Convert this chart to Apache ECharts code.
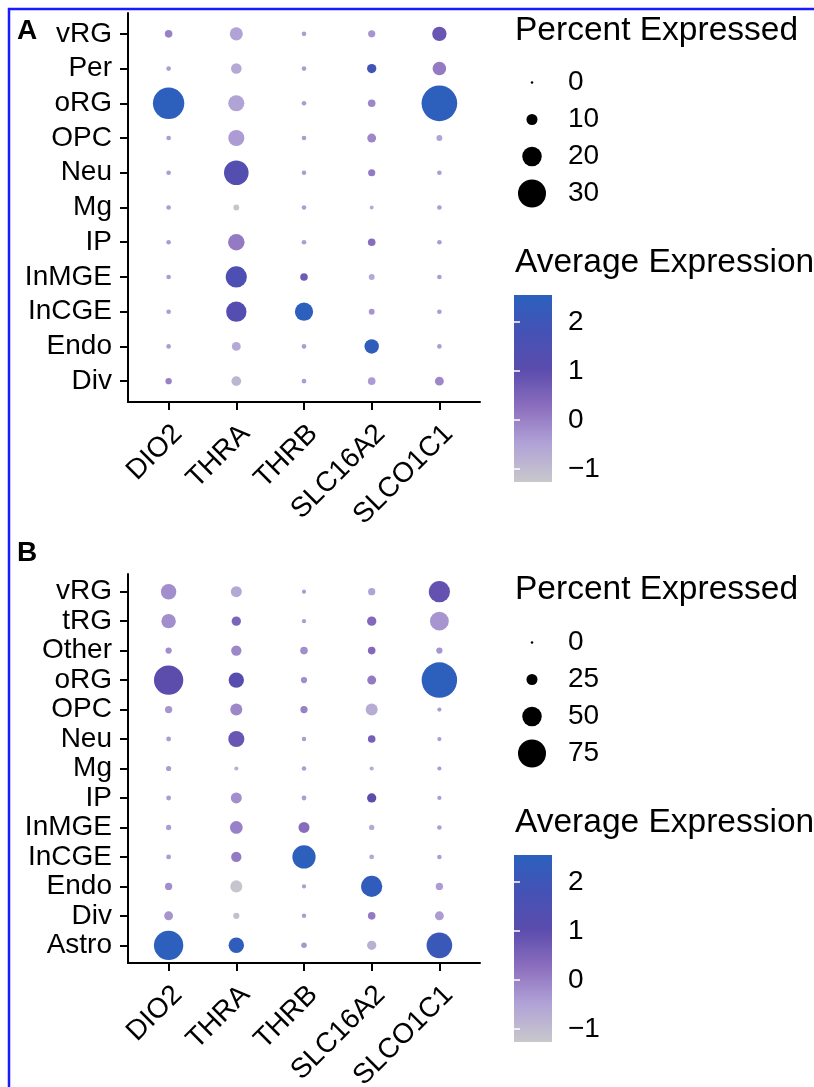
<!DOCTYPE html>
<html>
<head>
<meta charset="utf-8">
<script src="https://cdn.jsdelivr.net/npm/echarts@6/dist/echarts.min.js"></script>
<style>
html,body{margin:0;padding:0;background:#fff;}
#chart{width:814px;height:1087px;}
</style>
</head>
<body>
<div id="chart"></div>
<script>
// ---- data ----
const genes = ['DIO2','THRA','THRB','SLC16A2','SLCO1C1'];

const cellsA = ['vRG','Per','oRG','OPC','Neu','Mg','IP','InMGE','InCGE','Endo','Div'];
// percent expressed, rows = cellsA, cols = genes
const pctA = [
  [6, 12.5, 2.5, 5.5, 14],
  [2.5, 9.5, 2.5, 8, 13],
  [34, 16, 2.5, 6, 39],
  [2.5, 16, 2.5, 7.5, 4],
  [2.5, 26, 2.5, 5.5, 2.5],
  [2.5, 4, 2.5, 1.5, 2.5],
  [2.5, 16.5, 2.5, 6, 2.5],
  [2.5, 22, 6, 4, 2.5],
  [2.5, 21, 18.5, 4, 2.5],
  [2.5, 7.5, 2.5, 14, 2.5],
  [4.5, 8.5, 2.5, 6, 7.5]
];
// average expression
const expA = [
  [0, -0.5, -0.4, -0.3, 0.8],
  [-0.4, -0.6, -0.4, 1.9, 0.1],
  [2.5, -0.5, -0.4, -0.1, 2.5],
  [-0.4, -0.4, -0.4, -0.1, -0.5],
  [-0.4, 1.3, -0.4, 0.1, -0.4],
  [-0.4, -1.2, -0.4, -0.6, -0.4],
  [-0.4, 0.1, -0.4, 0.3, -0.4],
  [-0.4, 1.5, 0.7, -0.6, -0.4],
  [-0.4, 1.3, 2.5, -0.3, -0.4],
  [-0.4, -0.6, -0.4, 2.4, -0.4],
  [0, -0.9, -0.4, -0.4, -0.1]
];

const cellsB = ['vRG','tRG','Other','oRG','OPC','Neu','Mg','IP','InMGE','InCGE','Endo','Div','Astro'];
const pctB = [
  [38, 25, 5, 14, 55],
  [35, 20, 5, 20, 48],
  [11, 23, 15, 15, 11],
  [79, 38, 11, 19, 97],
  [14, 28, 14, 28, 5],
  [7, 40, 6, 15, 5],
  [8, 5, 6, 5, 5],
  [7, 25, 7, 20, 5],
  [8, 30, 25, 8, 6],
  [7, 23, 61, 7, 6],
  [14, 28, 5, 55, 14],
  [19, 11, 6, 15, 19],
  [79, 38, 9, 20, 68]
];
const expB = [
  [-0.2, -0.6, -0.4, -0.5, 0.9],
  [-0.2, 0.5, -0.4, 0.4, -0.3],
  [-0.2, -0.1, -0.2, 0.4, -0.3],
  [1.0, 1.2, -0.2, 0.1, 2.5],
  [-0.3, -0.1, 0, -0.7, -0.4],
  [-0.4, 0.8, -0.4, 0.6, -0.4],
  [-0.4, -0.8, -0.4, -0.7, -0.4],
  [-0.4, -0.2, -0.4, 1.0, -0.4],
  [-0.4, 0, 0.3, -0.6, -0.4],
  [-0.4, 0.1, 2.5, -0.6, -0.4],
  [-0.2, -1.2, -0.4, 2.4, -0.4],
  [-0.3, -1.1, -0.4, 0.1, -0.4],
  [2.5, 2.4, -0.3, -0.8, 2.1]
];

const sizeBreaksA = [0, 10, 20, 30];
const sizeBreaksB = [0, 25, 50, 75];
const colorTicks = [-1, 0, 1, 2];
const expMin = -1.27, expMax = 2.55;
const gradColors = ['#c8c8cc', '#b1a3d6', '#8c6fbe', '#5b4cad', '#4552b5', '#2b60bd'];

// ---- build ----
const FONT = '"Liberation Sans", Arial, Helvetica, sans-serif';
const sizeA = p => 2.5 + 0.85 * p;
const sizeB = p => 2.5 + 0.34 * p;

function buildData(cells, pct, exp) {
  const out = [];
  cells.forEach((c, i) => genes.forEach((g, j) => out.push([j, i, pct[i][j], exp[i][j]])));
  return out;
}
const dataA = buildData(cellsA, pctA, expA);
const dataB = buildData(cellsB, pctB, expB);

const minus = v => String(v).replace('-', '\u2212');
const geneIdx = genes.map((g, i) => i);

function mainX(gridIndex) {
  return {
    type: 'value', gridIndex, min: -0.6, max: genes.length - 0.4,
    splitLine: {show: false},
    axisLine: {show: true, onZero: false, lineStyle: {color: '#000', width: 2}},
    axisTick: {show: true, length: 8, lineStyle: {color: '#000', width: 2}, customValues: geneIdx},
    axisLabel: {show: true, customValues: geneIdx, formatter: v => genes[Math.round(v)],
      rotate: 45, margin: 14, verticalAlign: 'top', padding: [2, 3, 0, 0],
      fontSize: 28, color: '#000', fontFamily: FONT}
  };
}
function mainY(gridIndex, cells) {
  const idx = cells.map((c, i) => i);
  return {
    type: 'value', gridIndex, min: -0.6, max: cells.length - 0.4, inverse: true,
    splitLine: {show: false},
    axisLine: {show: true, onZero: false, lineStyle: {color: '#000', width: 2}},
    axisTick: {show: true, length: 8, lineStyle: {color: '#000', width: 2}, customValues: idx},
    axisLabel: {show: true, customValues: idx, formatter: v => cells[Math.round(v)],
      margin: 16, fontSize: 28, color: '#000', fontFamily: FONT}
  };
}
function hiddenX(gridIndex) {
  return {type: 'value', gridIndex, min: 0, max: 1, show: false};
}
function sizeLegendY(gridIndex, breaks) {
  return {
    type: 'category', gridIndex, data: breaks.map(String), inverse: true, position: 'right',
    axisLine: {show: false}, axisTick: {show: false}, splitLine: {show: false},
    axisLabel: {margin: 16, fontSize: 28, color: '#000', fontFamily: FONT}
  };
}
function barY(gridIndex, pos, labels) {
  return {
    type: 'value', gridIndex, min: expMin, max: expMax, position: pos, z: 10,
    splitLine: {show: false}, axisLine: {show: false},
    axisTick: {show: true, inside: true, length: 6, customValues: colorTicks,
      lineStyle: {color: '#ffffff', width: 1.5}},
    axisLabel: {show: labels, customValues: colorTicks, formatter: minus,
      margin: 16, fontSize: 28, color: '#000', fontFamily: FONT}
  };
}
function colorbarSeries(idx) {
  return {
    type: 'custom', xAxisIndex: idx, yAxisIndex: idx, silent: true,
    data: [[0, expMin, expMax]],
    renderItem: (params, api) => {
      const p1 = api.coord([0, expMax]);
      const p2 = api.coord([1, expMin]);
      const stops = gradColors.map((c, k) => ({offset: k / (gradColors.length - 1), color: c}));
      return {
        type: 'rect',
        shape: {x: p1[0], y: p1[1], width: p2[0] - p1[0], height: p2[1] - p1[1]},
        style: {fill: new echarts.graphic.LinearGradient(0, 1, 0, 0, stops)}
      };
    }
  };
}
function grid(left, top, width, height) {
  return {left, top, width, height, containLabel: false, outerBoundsMode: 'none'};
}

const chart = echarts.init(document.getElementById('chart'), null, {renderer: 'canvas'});
const option = {
  backgroundColor: '#ffffff',
  animation: false,
  textStyle: {fontFamily: FONT},
  grid: [
    grid(128, 13, 352, 389),
    grid(128, 574, 352, 389),
    grid(512, 64, 40, 148),
    grid(512, 624, 40, 148),
    grid(514, 295, 38, 187),
    grid(514, 855, 38, 187)
  ],
  xAxis: [mainX(0), mainX(1), hiddenX(2), hiddenX(3), hiddenX(4), hiddenX(5)],
  yAxis: [
    mainY(0, cellsA), mainY(1, cellsB),
    sizeLegendY(2, sizeBreaksA), sizeLegendY(3, sizeBreaksB),
    barY(4, 'right', true), barY(5, 'right', true),
    barY(4, 'left', false), barY(5, 'left', false)
  ],
  visualMap: [{
    type: 'continuous', show: false, seriesIndex: [0, 1], dimension: 3,
    min: expMin, max: expMax, inRange: {color: gradColors}
  }],
  series: [
    {type: 'scatter', xAxisIndex: 0, yAxisIndex: 0, data: dataA,
      symbolSize: v => sizeA(v[2]), itemStyle: {opacity: 1}},
    {type: 'scatter', xAxisIndex: 1, yAxisIndex: 1, data: dataB,
      symbolSize: v => sizeB(v[2]), itemStyle: {opacity: 1}},
    {type: 'scatter', xAxisIndex: 2, yAxisIndex: 2,
      data: sizeBreaksA.map(b => [0.5, String(b), b]),
      symbolSize: v => sizeA(v[2]), itemStyle: {color: '#000', opacity: 1}},
    {type: 'scatter', xAxisIndex: 3, yAxisIndex: 3,
      data: sizeBreaksB.map(b => [0.5, String(b), b]),
      symbolSize: v => sizeB(v[2]), itemStyle: {color: '#000', opacity: 1}},
    colorbarSeries(4),
    colorbarSeries(5)
  ],
  graphic: [
    {type: 'rect', silent: true, z: 100, shape: {x: 9, y: 9, width: 900, height: 1200},
      style: {fill: 'none', stroke: '#1a1aff', lineWidth: 2.5}},
    {type: 'text', x: 17, y: 31, style: {text: 'A', font: 'bold 28px ' + FONT, fill: '#000', verticalAlign: 'middle'}},
    {type: 'text', x: 17, y: 553, style: {text: 'B', font: 'bold 28px ' + FONT, fill: '#000', verticalAlign: 'middle'}},
    {type: 'text', x: 515, y: 31, style: {text: 'Percent Expressed', font: '33.5px ' + FONT, fill: '#000', verticalAlign: 'middle'}},
    {type: 'text', x: 515, y: 263, style: {text: 'Average Expression', font: '33.5px ' + FONT, fill: '#000', verticalAlign: 'middle'}},
    {type: 'text', x: 515, y: 590, style: {text: 'Percent Expressed', font: '33.5px ' + FONT, fill: '#000', verticalAlign: 'middle'}},
    {type: 'text', x: 515, y: 823, style: {text: 'Average Expression', font: '33.5px ' + FONT, fill: '#000', verticalAlign: 'middle'}}
  ]
};
chart.setOption(option);
</script>
</body>
</html>
